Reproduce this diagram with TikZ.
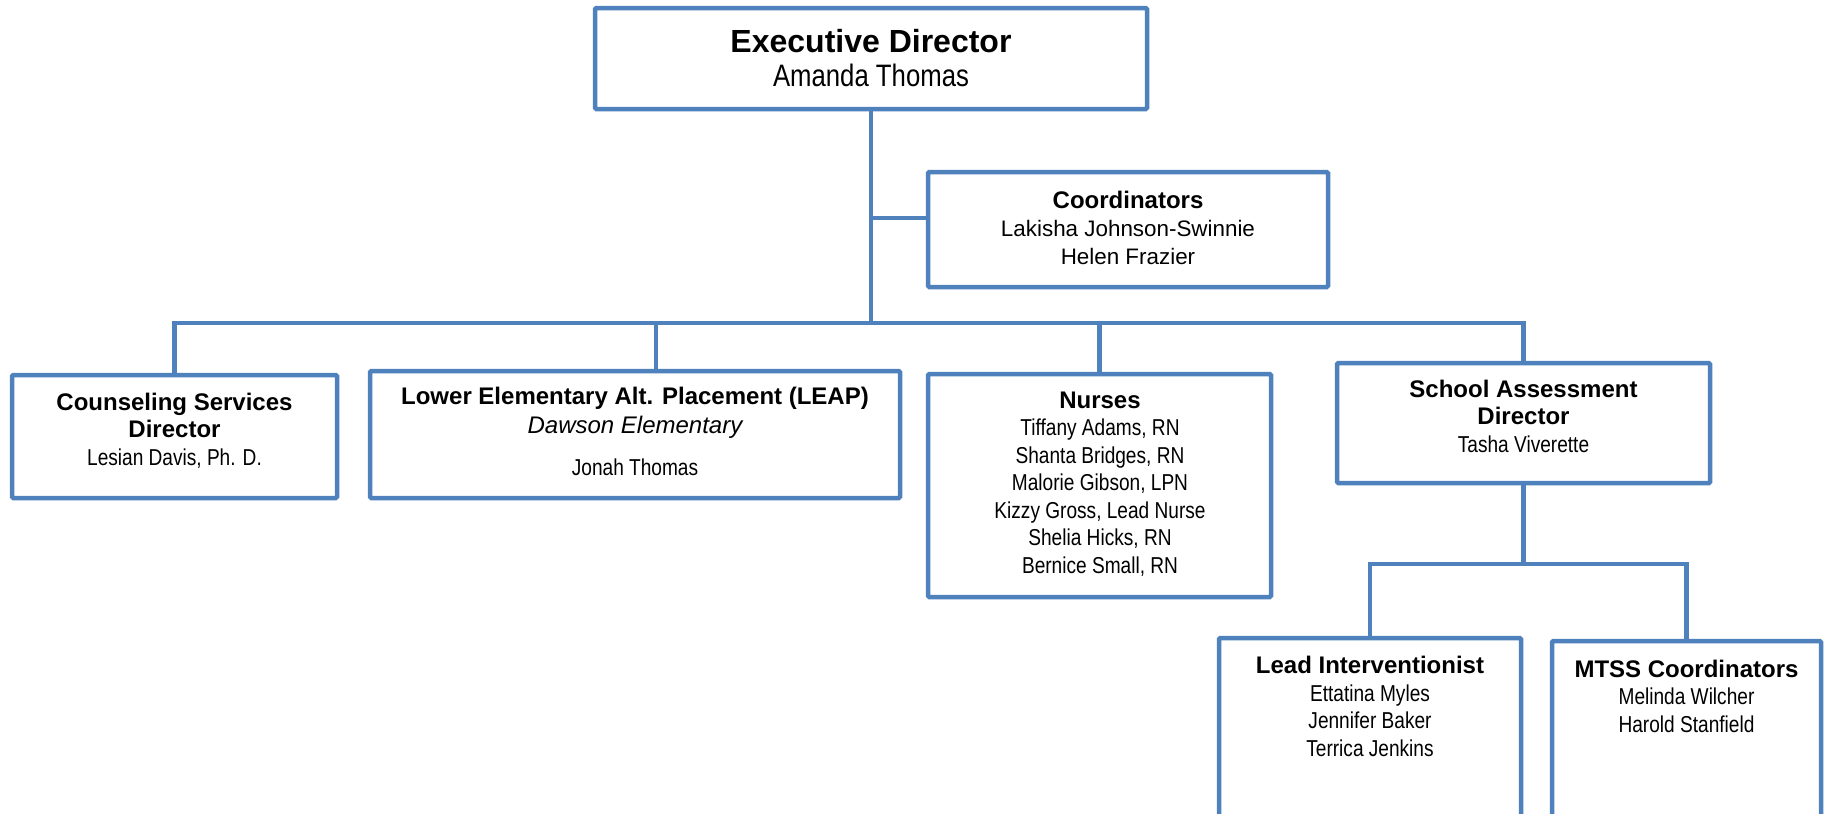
\documentclass[tikz,border=0pt]{standalone}
\usepackage{fontspec}
\setmainfont{Liberation Sans}
\newfontfamily\narrow[FakeStretch=0.83]{Liberation Sans}
\usetikzlibrary{fit}
\definecolor{chartblue}{RGB}{79,129,189}
\newcommand\hd{\fontsize{12}{13.75}\bfseries}
\newcommand\nm{\fontsize{11.5}{13.75}\narrow}
\begin{document}
\begin{tikzpicture}[x=0.5pt,y=-0.5pt,
  box/.style={draw=chartblue,line width=2.25pt,fill=white,rounded corners=0.6pt,inner sep=0pt,outer sep=0pt},
  link/.style={draw=chartblue,line width=2.25pt},
  lbl/.style={anchor=base,align=center,inner sep=0pt,font=\fontsize{11.5}{13.75}\selectfont}]
\useasboundingbox[fill=white](0,0)rectangle(1828,814);
\coordinate(stub)at(0,218);
\coordinate(bus)at(0,323);
\coordinate(bus2)at(0,564);
% boxes
\node[box,fit={(595,8)(1147,109)}](exec){};
\node[box,fit={(928,172)(1328,287)}](coord){};
\node[box,fit={(12,375)(337,498)}](couns){};
\node[box,fit={(370,371)(900,498)}](leap){};
\node[box,fit={(928,374)(1271,597)}](nurse){};
\node[box,fit={(1337,363)(1710,483)}](sad){};
\node[box,fit={(1219,638)(1521,840)}](lead){};
\node[box,fit={(1552,641)(1821,840)}](mtss){};
% links
\draw[link](exec.south)--(exec.south|-bus);
\draw[link](exec.south|-stub)--(coord.west|-stub);
\draw[link](couns.north)--(couns.north|-bus)-|(sad.north);
\draw[link]([xshift=10.5pt]leap.north)--([xshift=10.5pt]leap.north|-bus);
\draw[link](nurse.north)--(nurse.north|-bus);
\draw[link](sad.south)--(sad.south|-bus2);
\draw[link](lead.north)--(lead.north|-bus2)-|(mtss.north);
% texts (placed at the baseline of their last line)
\node[lbl,font=\fontsize{15}{17}\selectfont](exec-t)at(871,86)
  {{\fontsize{16}{19}\bfseries Executive Director}\\{\fontsize{15.5}{17}\narrow Amanda Thomas}};
\node[lbl,font=\fontsize{11}{14}\selectfont](coord-t)at(1128,264)
  {{\hd Coordinators}\\{\fontsize{11.2}{14}\selectfont Lakisha Johnson-Swinnie}\\{\fontsize{11.2}{14}\selectfont Helen Frazier}};
\node[lbl](couns-t)at(174.5,465)
  {{\hd Counseling Services}\\{\hd Director}\\{\nm Lesian Davis, Ph. D.}};
\node[lbl,font=\fontsize{11.5}{14.5}\selectfont](leap-t)at(635,475)
  {{\hd Lower Elementary Alt. Placement (LEAP)}\\{\fontsize{12}{14}\itshape Dawson Elementary}\\[6.5pt]{\nm Jonah Thomas}};
\node[lbl](nurse-t)at(1100,573)
  {{\hd Nurses}\\{\nm Tiffany Adams, RN}\\{\nm Shanta Bridges, RN}\\{\nm Malorie Gibson, LPN}\\
   {\nm Kizzy Gross, Lead Nurse}\\{\nm Shelia Hicks, RN}\\{\nm Bernice Small, RN}};
\node[lbl](sad-t)at(1523.5,452)
  {{\hd School Assessment}\\{\hd Director}\\{\nm Tasha Viverette}};
\node[lbl](lead-t)at(1370,756)
  {{\hd Lead Interventionist}\\{\nm Ettatina Myles}\\{\nm Jennifer Baker}\\{\nm Terrica Jenkins}};
\node[lbl](mtss-t)at(1686.5,732)
  {{\hd MTSS Coordinators}\\{\nm Melinda Wilcher}\\{\nm Harold Stanfield}};
\end{tikzpicture}
\end{document}
